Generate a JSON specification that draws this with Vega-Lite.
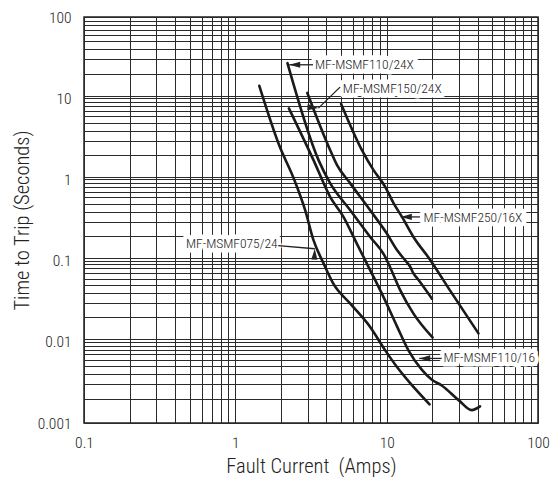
{
  "$schema": "https://vega.github.io/schema/vega-lite/v6.json",
  "width": 454,
  "height": 406,
  "autosize": {"type": "none"},
  "padding": {"left": 84, "top": 17, "right": 19, "bottom": 54},
  "background": "white",
  "config": {
    "view": {"stroke": "#222", "strokeWidth": 1.5},
    "font": "Roboto Condensed, DejaVu Sans Condensed, sans-serif"
  },
  "datasets": {
    "curves": [
      {"series": "MF-MSMF075/24", "x": 1.44, "y": 14.2},
      {"series": "MF-MSMF075/24", "x": 1.97, "y": 2.5},
      {"series": "MF-MSMF075/24", "x": 2.42, "y": 1.05},
      {"series": "MF-MSMF075/24", "x": 2.89, "y": 0.42},
      {"series": "MF-MSMF075/24", "x": 3.28, "y": 0.18},
      {"series": "MF-MSMF075/24", "x": 3.82, "y": 0.093},
      {"series": "MF-MSMF075/24", "x": 4.44, "y": 0.052},
      {"series": "MF-MSMF075/24", "x": 5.73, "y": 0.0297},
      {"series": "MF-MSMF075/24", "x": 7.76, "y": 0.0153},
      {"series": "MF-MSMF075/24", "x": 9.76, "y": 0.0079},
      {"series": "MF-MSMF075/24", "x": 11.7, "y": 0.0049},
      {"series": "MF-MSMF075/24", "x": 14.3, "y": 0.0031},
      {"series": "MF-MSMF075/24", "x": 19.2, "y": 0.0017},

      {"series": "MF-MSMF110/24X", "x": 2.21, "y": 27},
      {"series": "MF-MSMF110/24X", "x": 3.54, "y": 1.74},
      {"series": "MF-MSMF110/24X", "x": 4.23, "y": 0.9},
      {"series": "MF-MSMF110/24X", "x": 5.73, "y": 0.42},
      {"series": "MF-MSMF110/24X", "x": 7.76, "y": 0.197},
      {"series": "MF-MSMF110/24X", "x": 9.76, "y": 0.112},
      {"series": "MF-MSMF110/24X", "x": 10.5, "y": 0.084},
      {"series": "MF-MSMF110/24X", "x": 12.3, "y": 0.043},
      {"series": "MF-MSMF110/24X", "x": 15.0, "y": 0.0224},
      {"series": "MF-MSMF110/24X", "x": 20.1, "y": 0.0113},

      {"series": "MF-MSMF110/16", "x": 2.26, "y": 7.5},
      {"series": "MF-MSMF110/16", "x": 3.28, "y": 1.74},
      {"series": "MF-MSMF110/16", "x": 4.23, "y": 0.61},
      {"series": "MF-MSMF110/16", "x": 5.17, "y": 0.348},
      {"series": "MF-MSMF110/16", "x": 6.34, "y": 0.163},
      {"series": "MF-MSMF110/16", "x": 7.76, "y": 0.077},
      {"series": "MF-MSMF110/16", "x": 9.5, "y": 0.036},
      {"series": "MF-MSMF110/16", "x": 11.7, "y": 0.0155},
      {"series": "MF-MSMF110/16", "x": 13.9, "y": 0.0079},
      {"series": "MF-MSMF110/16", "x": 17.1, "y": 0.0045},
      {"series": "MF-MSMF110/16", "x": 19.9, "y": 0.0034},
      {"series": "MF-MSMF110/16", "x": 23.1, "y": 0.0029},
      {"series": "MF-MSMF110/16", "x": 30.0, "y": 0.0019},
      {"series": "MF-MSMF110/16", "x": 36.5, "y": 0.00144},
      {"series": "MF-MSMF110/16", "x": 41.4, "y": 0.0016},

      {"series": "MF-MSMF150/24X", "x": 2.99, "y": 11.6},
      {"series": "MF-MSMF150/24X", "x": 4.23, "y": 2.3},
      {"series": "MF-MSMF150/24X", "x": 4.7, "y": 1.5},
      {"series": "MF-MSMF150/24X", "x": 5.73, "y": 0.9},
      {"series": "MF-MSMF150/24X", "x": 7.76, "y": 0.42},
      {"series": "MF-MSMF150/24X", "x": 10.0, "y": 0.217},
      {"series": "MF-MSMF150/24X", "x": 11.7, "y": 0.135},
      {"series": "MF-MSMF150/24X", "x": 13.3, "y": 0.1},
      {"series": "MF-MSMF150/24X", "x": 14.3, "y": 0.084},
      {"series": "MF-MSMF150/24X", "x": 15.0, "y": 0.07},
      {"series": "MF-MSMF150/24X", "x": 16.2, "y": 0.058},
      {"series": "MF-MSMF150/24X", "x": 19.9, "y": 0.034},

      {"series": "MF-MSMF250/16X", "x": 5.0, "y": 8.5},
      {"series": "MF-MSMF250/16X", "x": 6.85, "y": 2.31},
      {"series": "MF-MSMF250/16X", "x": 8.17, "y": 1.31},
      {"series": "MF-MSMF250/16X", "x": 9.76, "y": 0.815},
      {"series": "MF-MSMF250/16X", "x": 11.1, "y": 0.51},
      {"series": "MF-MSMF250/16X", "x": 12.6, "y": 0.348},
      {"series": "MF-MSMF250/16X", "x": 15.0, "y": 0.197},
      {"series": "MF-MSMF250/16X", "x": 19.4, "y": 0.102},
      {"series": "MF-MSMF250/16X", "x": 26.2, "y": 0.043},
      {"series": "MF-MSMF250/16X", "x": 40.4, "y": 0.0127}
    ],
    "labels": [
      {"label": "MF-MSMF110/24X", "x": 3.36, "y": 25.8},
      {"label": "MF-MSMF150/24X", "x": 5.13, "y": 12.9},
      {"label": "MF-MSMF250/16X", "x": 17.5, "y": 0.33},
      {"label": "MF-MSMF075/24", "x": 0.472, "y": 0.159},
      {"label": "MF-MSMF110/16", "x": 23.7, "y": 0.00624}
    ],
    "arrows": [
      {"label": "MF-MSMF110/24X", "x": 2.27, "y": 25.8, "x2": 3.26, "y2": 25.8, "dir": "left"},
      {"label": "MF-MSMF150/24X", "x": 3.54, "y": 7.55, "x2": 4.92, "y2": 13.7, "dir": "downleft"},
      {"label": "MF-MSMF250/16X", "x": 12.4, "y": 0.345, "x2": 16.6, "y2": 0.345, "dir": "left"},
      {"label": "MF-MSMF075/24", "x": 3.35, "y": 0.14, "x2": 1.92, "y2": 0.153, "dir": "right"},
      {"label": "MF-MSMF110/16", "x": 16.4, "y": 0.00624, "x2": 23.1, "y2": 0.00624, "dir": "left"}
    ]
  },
  "encoding": {
    "x": {
      "field": "x",
      "type": "quantitative",
      "scale": {"type": "log", "domain": [0.1, 100], "nice": false},
      "axis": {
        "title": "Fault Current\u00a0 (Amps)",
        "values": [0.1, 0.2, 0.3, 0.4, 0.5, 0.6, 0.7, 0.8, 0.9, 1, 2, 3, 4, 5, 6, 7, 8, 9, 10, 20, 30, 40, 50, 60, 70, 80, 90, 100],
        "format": "~g",
        "labelExpr": "abs(log(datum.value)/LN10 - round(log(datum.value)/LN10)) < 0.001 ? datum.label : ''",
        "grid": true,
        "gridColor": "#2a2a2a",
        "gridWidth": 1,
        "gridOpacity": 1,
        "ticks": false,
        "domain": false,
        "labelPadding": 24.5,
        "labelBaseline": "alphabetic",
        "labelFlush": false,
        "labelOverlap": false,
        "labelBound": false,
        "labelFontSize": 15.5,
        "labelFontWeight": 300,
        "labelColor": "#222",
        "titleFontSize": 20.5,
        "titleFontWeight": 300,
        "titleColor": "#222",
        "titleBaseline": "alphabetic",
        "titleX": 227,
        "titleY": 49,
        "titleAnchor": "middle"
      }
    },
    "y": {
      "field": "y",
      "type": "quantitative",
      "scale": {"type": "log", "domain": [0.001, 100], "nice": false},
      "axis": {
        "title": "Time to Trip (Seconds)",
        "values": [0.001, 0.002, 0.003, 0.004, 0.005, 0.006, 0.007, 0.008, 0.009, 0.01, 0.0107, 0.02, 0.03, 0.04, 0.05, 0.06, 0.07, 0.08, 0.09, 0.1, 0.107, 0.2, 0.3, 0.4, 0.5, 0.6, 0.7, 0.8, 0.9, 1, 1.07, 2, 3, 4, 5, 6, 7, 8, 9, 10, 10.7, 20, 30, 40, 50, 60, 70, 80, 90, 100],
        "format": "~g",
        "labelExpr": "abs(log(datum.value)/LN10 - round(log(datum.value)/LN10)) < 0.001 ? datum.label : ''",
        "grid": true,
        "gridColor": "#2a2a2a",
        "gridWidth": 1,
        "gridOpacity": 1,
        "ticks": false,
        "domain": false,
        "labelPadding": 13,
        "labelFlush": false,
        "labelOverlap": false,
        "labelBound": false,
        "labelFontSize": 15.5,
        "labelFontWeight": 300,
        "labelColor": "#222",
        "titleFontSize": 20.5,
        "titleFontWeight": 300,
        "titleColor": "#222",
        "titleAngle": -90,
        "titleBaseline": "middle",
        "titleX": -62,
        "titleY": 203,
        "titleAnchor": "middle"
      }
    }
  },
  "layer": [
    {
      "data": {"name": "curves"},
      "mark": {"type": "line", "interpolate": "monotone", "color": "#1a1a1a", "strokeWidth": 2.6, "strokeJoin": "round", "strokeCap": "round"},
      "encoding": {"detail": {"field": "series", "type": "nominal"}}
    },
    {
      "data": {"name": "labels"},
      "mark": {"type": "text", "align": "left", "baseline": "middle", "fontSize": 13.5, "fontWeight": 300, "fill": "white", "stroke": "white", "strokeWidth": 9, "strokeJoin": "round"},
      "encoding": {"text": {"field": "label", "type": "nominal"}}
    },
    {
      "data": {"name": "arrows"},
      "mark": {"type": "rule", "color": "#222", "strokeWidth": 1.3},
      "encoding": {
        "x2": {"field": "x2"},
        "y2": {"field": "y2"}
      }
    },
    {
      "data": {"name": "arrows"},
      "mark": {"type": "point", "shape": "M0,0L1,-0.28L1,0.28Z", "size": 484, "filled": true, "color": "#222", "opacity": 1, "strokeWidth": 0},
      "encoding": {
        "angle": {"field": "dir", "type": "nominal", "scale": {"domain": ["left", "right", "downleft"], "range": [0, 185, 316]}, "legend": null}
      }
    },
    {
      "data": {"name": "labels"},
      "mark": {"type": "text", "align": "left", "baseline": "middle", "fontSize": 13.5, "fontWeight": 300, "color": "#222"},
      "encoding": {"text": {"field": "label", "type": "nominal"}}
    }
  ]
}
